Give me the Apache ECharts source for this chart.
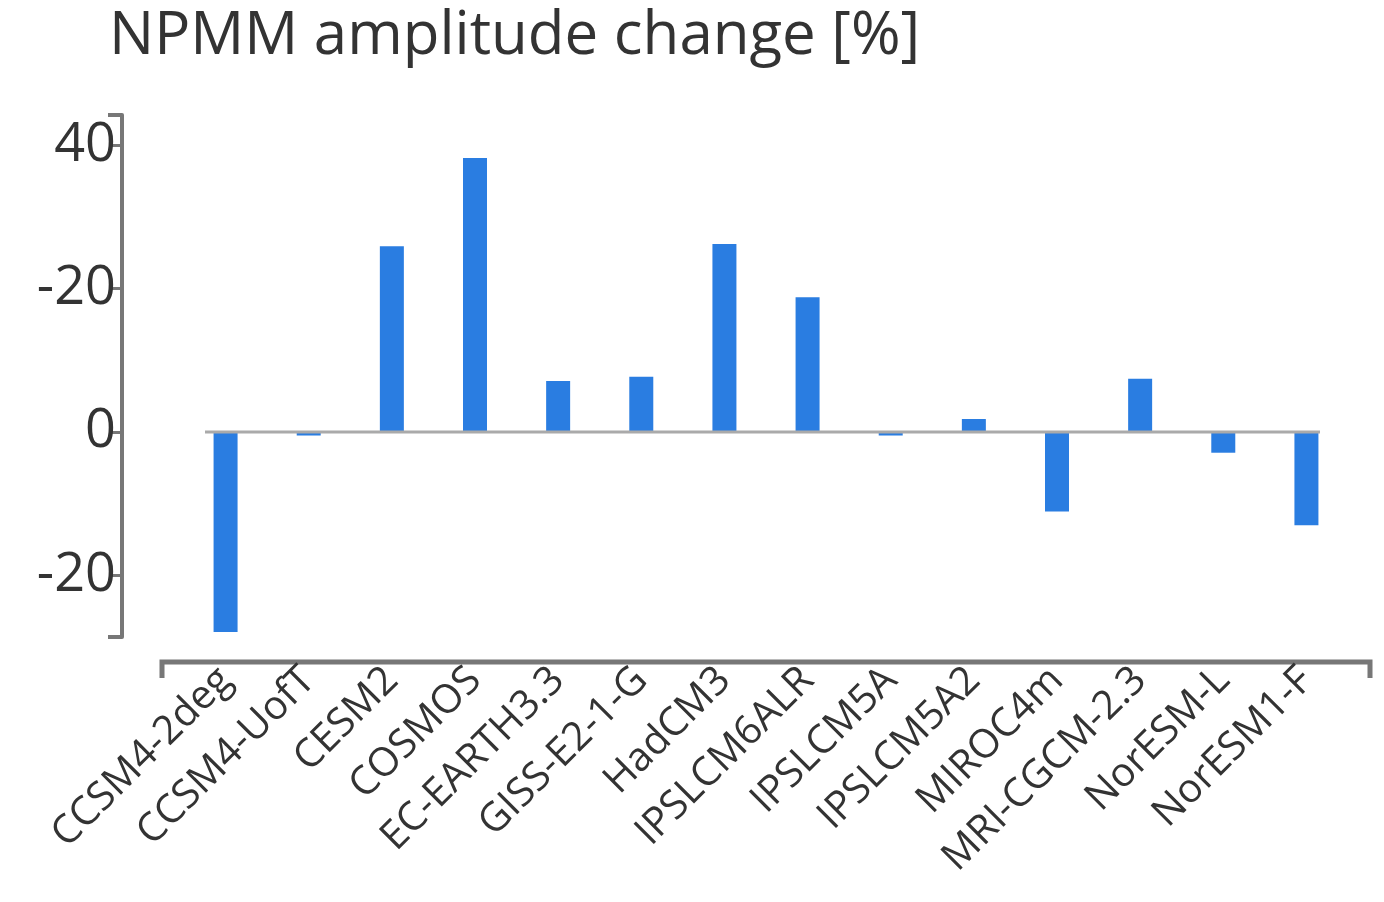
<!DOCTYPE html>
<html><head><meta charset="utf-8">
<script src="https://cdn.jsdelivr.net/npm/echarts@6/dist/echarts.min.js"></script>
<style>html,body{margin:0;background:#fff}#c{width:1384px;height:902px}</style>
</head><body><div id="c"></div>
<script>
// model names and amplitude change (%)
var models = ['CCSM4-2deg', 'CCSM4-UofT', 'CESM2', 'COSMOS', 'EC-EARTH3.3', 'GISS-E2-1-G', 'HadCM3',
    'IPSLCM6ALR', 'IPSLCM5A', 'IPSLCM5A2', 'MIROC4m', 'MRI-CGCM-2.3', 'NorESM-L', 'NorESM1-F'];
var change = [-27.9, -0.5, 25.9, 38.2, 7.1, 7.7, 26.2, 18.8, -0.5, 1.8, -11.1, 7.4, -2.9, -13.0];
// tick labels as printed on the original
var tickValues = [40, 20, 0, -20];
var tickLabels = ['40', '-20', '0', '-20'];

var font = '"Open Sans", "Noto Sans", sans-serif';
var axisGrey = '#777';
var chart = echarts.init(document.getElementById('c'));
chart.setOption({
    animation: false,
    title: {
        text: 'NPMM amplitude change [%]',
        left: 104, top: 2,
        textStyle: {fontFamily: font, fontSize: 60, fontWeight: 'normal', color: '#333'}
    },
    grid: {left: 184, right: 36, top: 115, bottom: 265},
    xAxis: {
        type: 'category',
        data: models,
        offset: 25,
        axisLine: {show: false},
        axisTick: {alignWithLabel: true, length: 16, lineStyle: {color: axisGrey, width: 3}},
        axisLabel: {rotate: 45, fontFamily: font, fontSize: 40, color: '#333', margin: 12, interval: 0}
    },
    yAxis: {
        type: 'value',
        min: -28.6, max: 44.2,
        offset: 62,
        splitLine: {show: false},
        axisLine: {show: true, lineStyle: {color: axisGrey, width: 4}},
        axisTick: {show: true, length: 12, lineStyle: {color: axisGrey, width: 3},
            customValues: tickValues},
        axisLabel: {fontFamily: font, fontSize: 54, color: '#333', margin: 6,
            customValues: tickValues,
            formatter: function (v) {
                var i = tickValues.indexOf(Math.round(v));
                return i >= 0 ? tickLabels[i] : '';
            }}
    },
    series: [{
        type: 'bar',
        data: change,
        barWidth: 24,
        itemStyle: {color: '#2a7de1'}
    }]
});

// zero line, bracket ends and bottom axis frame
var z = chart.convertToPixel({yAxisIndex: 0}, 0);
chart.setOption({
    graphic: [
        {type: 'line', shape: {x1: 205, y1: z, x2: 1320, y2: z}, style: {stroke: '#aaa', lineWidth: 3}, z: 10},
        {type: 'line', shape: {x1: 108, y1: 115, x2: 122, y2: 115}, style: {stroke: axisGrey, lineWidth: 4}},
        {type: 'line', shape: {x1: 108, y1: 637, x2: 122, y2: 637}, style: {stroke: axisGrey, lineWidth: 4}},
        {type: 'polyline', shape: {points: [[162, 678], [162, 662], [1370, 662], [1370, 678]]},
            style: {stroke: axisGrey, lineWidth: 5, fill: null}}
    ]
});
</script></body></html>
